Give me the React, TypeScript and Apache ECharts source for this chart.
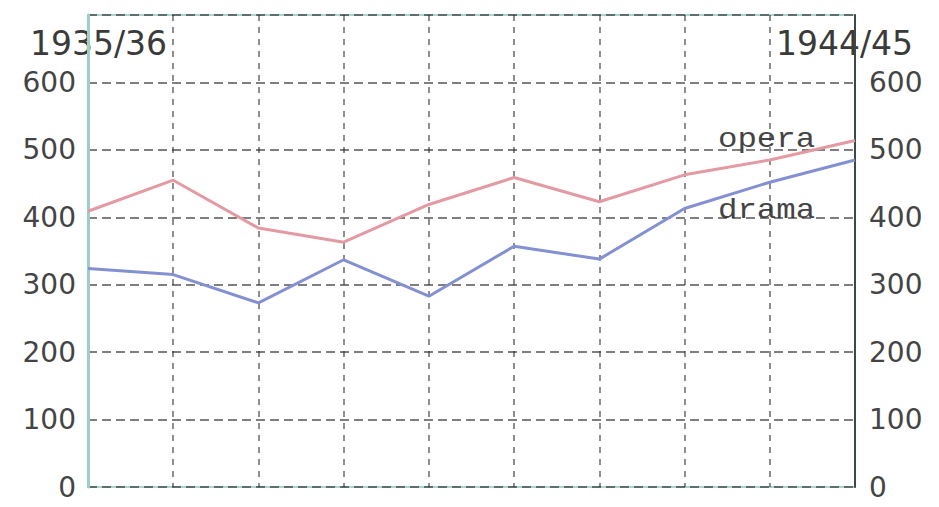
import React, { useEffect, useRef } from "react";
import * as echarts from "echarts";

const seasons = ["1935/36", "1936/37", "1937/38", "1938/39", "1939/40", "1940/41", "1941/42", "1942/43", "1943/44", "1944/45"];
const operaValues = [409, 455, 384, 363, 419, 459, 423, 463, 485, 514];
const dramaValues = [324, 315, 273, 337, 283, 357, 338, 413, 452, 485];
const seriesNames = ["opera", "drama"];
const yTicks = [0, 100, 200, 300, 400, 500, 600, 700];

const App: React.FC = () => {
  const ref = useRef<HTMLDivElement>(null);
  useEffect(() => {
    if (!ref.current) return;
    const chart = echarts.init(ref.current, null, { renderer: "svg" });
    const gridLeft = 88;
    const gridRight = 84;
    const gridTop = 15;
    const gridBottom = 20;
    const yMax = yTicks[yTicks.length - 1];
    const tickFont = { fontFamily: "DejaVu Sans", fontSize: 28, color: "#444444" };
    const splitStyle = { color: "#2a2a2a", width: 1.5, type: [9, 5] as any, opacity: 0.8 };
    const yAxisCommon = {
      type: "value" as const,
      min: 0,
      max: yMax,
      interval: 100,
      splitLine: { show: true, lineStyle: splitStyle },
      axisTick: { show: false },
      axisLabel: {
        ...tickFont,
        formatter: (v: number) => (v === yMax ? "" : String(v)),
      },
    };
    chart.setOption({
      animation: false,
      backgroundColor: "#ffffff",
      grid: {
        left: gridLeft,
        right: gridRight,
        top: gridTop,
        bottom: gridBottom,
        show: true,
        borderColor: "#a9d6cf",
        borderWidth: 2,
      },
      xAxis: {
        type: "category",
        data: seasons,
        boundaryGap: false,
        axisLine: { show: false },
        axisTick: { show: false },
        axisLabel: { show: false },
        splitLine: { show: true, lineStyle: { ...splitStyle, type: [6, 6] as any, opacity: 0.7 } },
      },
      yAxis: [
        {
          ...yAxisCommon,
          position: "left",
          axisLine: { show: true, lineStyle: { color: "#9ccfc6", width: 3 } },
          axisLabel: { ...yAxisCommon.axisLabel, margin: 12 },
        },
        {
          ...yAxisCommon,
          position: "right",
          splitLine: { show: false },
          axisLine: { show: true, lineStyle: { color: "#3a4a48", width: 2 } },
          axisLabel: { ...yAxisCommon.axisLabel, margin: 14 },
        },
      ],
      series: [
        {
          name: seriesNames[0],
          type: "line",
          data: operaValues,
          symbol: "none",
          lineStyle: { color: "#e39aa3", width: 3 },
        },
        {
          name: seriesNames[1],
          type: "line",
          data: dramaValues,
          symbol: "none",
          lineStyle: { color: "#8391d2", width: 3 },
        },
      ],
      graphic: [
        {
          type: "text",
          left: 30,
          top: 27,
          style: { text: seasons[0], font: "33px 'DejaVu Sans'", fill: "#3a3a3a" },
        },
        {
          type: "text",
          right: 26,
          top: 27,
          style: { text: seasons[seasons.length - 1], font: "33px 'DejaVu Sans'", fill: "#3a3a3a" },
        },
        {
          type: "text",
          x: 718,
          y: 126,
          scaleX: 1.2,
          style: { text: seriesNames[0], font: "27px 'Liberation Mono'", fill: "#444444" },
        },
        {
          type: "text",
          x: 718,
          y: 197,
          scaleX: 1.2,
          style: { text: seriesNames[1], font: "27px 'Liberation Mono'", fill: "#444444" },
        },
      ],
    });
    return () => chart.dispose();
  }, []);
  return <div ref={ref} style={{ width: 939, height: 507, position: "absolute", left: 0, top: 0 }} />;
};

export default App;
